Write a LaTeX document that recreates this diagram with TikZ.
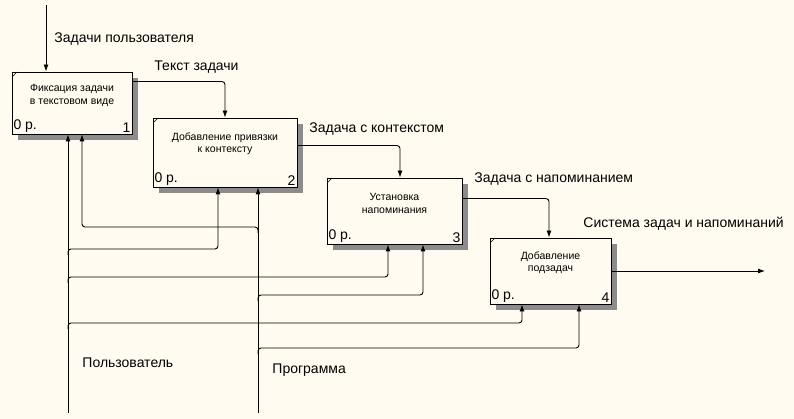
\documentclass[tikz,border=0pt]{standalone}
\usepackage{fontspec}
\setmainfont{Liberation Sans}
\usetikzlibrary{arrows.meta,shadows}
\definecolor{paper}{RGB}{255,251,240}

\begin{document}
\begin{tikzpicture}[x=1pt, y=-1pt, line width=0.9pt,
  fn/.style={draw, fill=paper, inner sep=0pt,
    general shadow={shadow xshift=6pt, shadow yshift=-6pt, fill=black!45},
    path picture={\draw[line width=0.6pt] ([yshift=-5pt]path picture bounding box.north west) -- ([xshift=5pt]path picture bounding box.north west);}},
  fntext/.style={font=\fontsize{10.5}{12.5}\selectfont, align=center, inner sep=0pt},
  cnr/.style={font=\fontsize{14}{16}\selectfont, inner sep=1.5pt},
  lbl/.style={font=\fontsize{14}{16}\selectfont, anchor=base west, inner sep=0pt},
  arr/.style={-{Latex[length=7pt,width=5pt]}, rounded corners=3pt}]
\fill[paper] (0,0) rectangle (794,419);
\useasboundingbox (0,0) rectangle (794,419);

% function blocks
\node[fn, minimum width=120pt, minimum height=62pt] (f1) at (72,103) {};
\node[fntext] (t1) at ([yshift=-24pt]f1.north) {Фиксация задачи\\в текстовом виде};
\node[cnr, anchor=south west] (p1) at (f1.south west) {0 р.};
\node[cnr, anchor=south east] (n1) at (f1.south east) {1};

\node[fn, minimum width=144pt, minimum height=69pt] (f2) at (225,152.5) {};
\node[fntext] (t2) at ([yshift=-26pt]f2.north) {Добавление привязки\\к контексту};
\node[cnr, anchor=south west] (p2) at (f2.south west) {0 р.};
\node[cnr, anchor=south east] (n2) at (f2.south east) {2};

\node[fn, minimum width=135pt, minimum height=66pt] (f3) at (394.5,211) {};
\node[fntext] (t3) at ([yshift=-26pt]f3.north) {Установка\\напоминания};
\node[cnr, anchor=south west] (p3) at (f3.south west) {0 р.};
\node[cnr, anchor=south east] (n3) at (f3.south east) {3};

\node[fn, minimum width=121pt, minimum height=66pt] (f4) at (550.5,271) {};
\node[fntext] (t4) at ([yshift=-25pt]f4.north) {Добавление\\подзадач};
\node[cnr, anchor=south west] (p4) at (f4.south west) {0 р.};
\node[cnr, anchor=south east] (n4) at (f4.south east) {4};

% loose ends
\coordinate (inp) at (46,5);
\coordinate (out) at (765,271);
\coordinate (usr) at (68,413);
\coordinate (prg) at (258,413);

% inputs and outputs
\draw[arr] (inp) -- (inp |- f1.north);
\draw[arr] ([yshift=-10pt]f1.north east) -| (f2.north);
\draw[arr] ([yshift=-28pt]f2.north east) -| ([xshift=5.5pt]f3.north);
\draw[arr] ([yshift=-21pt]f3.north east) -| ([xshift=-1.5pt]f4.north);
\draw[arr] (f4.east) -- (out);

% mechanisms: trunks, then branches leaving them
\draw[arr] (usr) -- (usr |- f1.south);
\draw[arr] (prg) -- (prg |- f2.south);
\draw[arr] (prg |- 0,233) |- (82,227) -- ([xshift=10pt]f1.south);
\draw[arr] (usr |- 0,255) |- (218,249) -- ([xshift=-7pt]f2.south);
\draw[arr] (usr |- 0,283) |- (388,277) -- ([xshift=-6.5pt]f3.south);
\draw[arr] (prg |- 0,301) |- (423,295) -- ([xshift=28.5pt]f3.south);
\draw[arr] (usr |- 0,329) |- (522,323) -- ([xshift=-28.5pt]f4.south);
\draw[arr] (prg |- 0,354) |- (579,348) -- ([xshift=28.5pt]f4.south);

% arrow labels
\node[lbl] (l0) at (54,43) {Задачи пользователя};
\node[lbl] (l1) at (154,71) {Текст задачи};
\node[lbl] (l2) at (309,133) {Задача с контекстом};
\node[lbl] (l3) at (474,183) {Задача с напоминанием};
\node[lbl] (l4) at (583,228) {Система задач и напоминаний};
\node[lbl] (lu) at (82,367) {Пользователь};
\node[lbl] (lp) at (272,373) {Программа};
\end{tikzpicture}
\end{document}
